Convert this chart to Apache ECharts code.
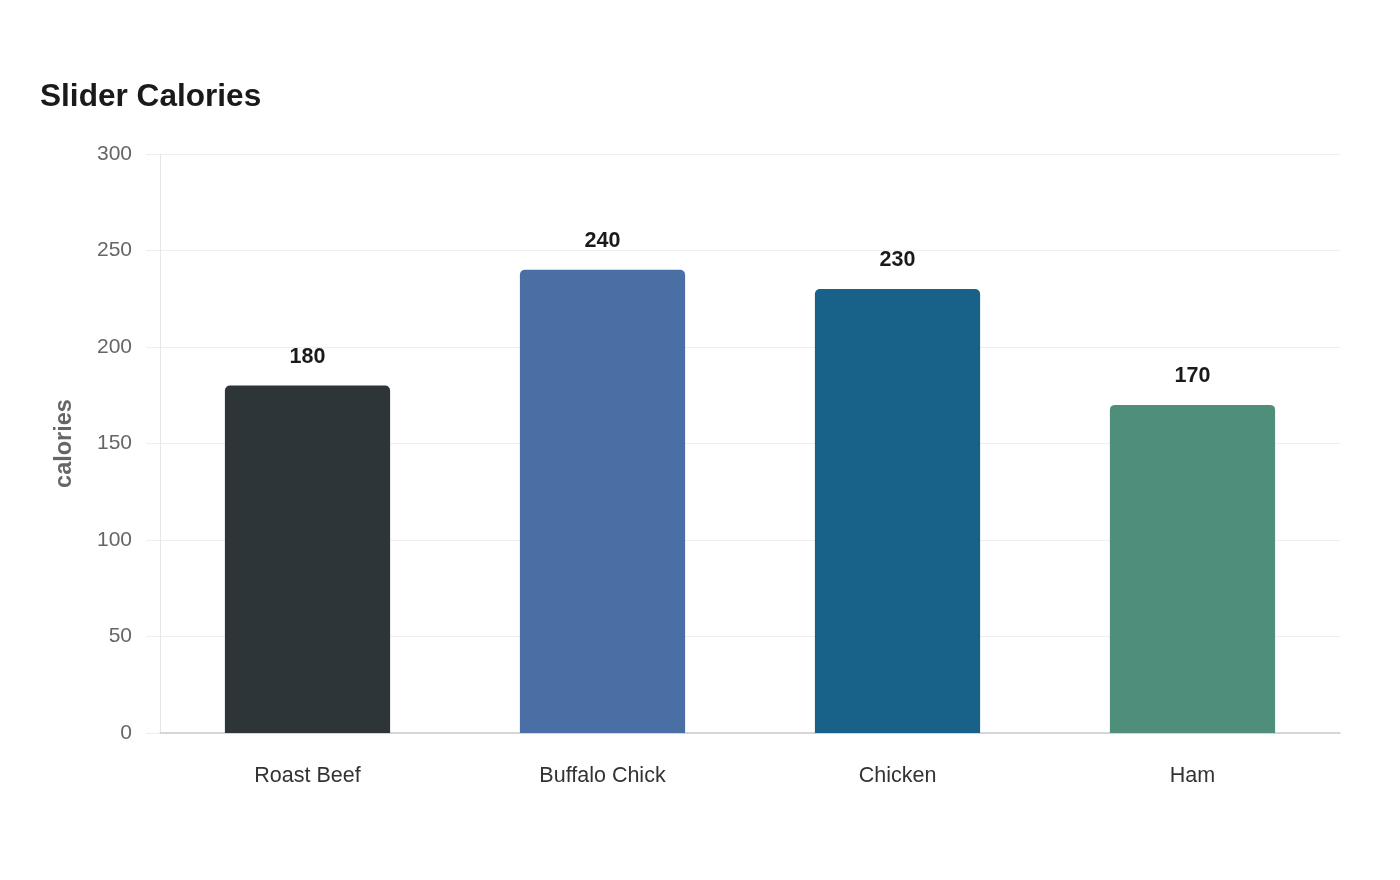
<!DOCTYPE html>
<html>
<head>
<meta charset="utf-8">
<script src="https://cdn.jsdelivr.net/npm/echarts@6/dist/echarts.min.js"></script>
<style>
  html, body { margin: 0; padding: 0; background: #fff; }
  #chart { width: 1400px; height: 880px; }
</style>
</head>
<body>
<div id="chart"></div>
<script>
const categories = ['Roast Beef', 'Buffalo Chick', 'Chicken', 'Ham'];
const calories = [180, 240, 230, 170];
const barColors = ['#2E3538', '#4A6FA5', '#186188', '#4E8E7B'];
const yTicks = [0, 50, 100, 150, 200, 250, 300];

const chart = echarts.init(document.getElementById('chart'));
const font = 'Liberation Sans';

chart.setOption({
  animation: false,
  textStyle: { fontFamily: font },
  title: {
    text: 'Slider Calories',
    left: 35,
    top: 76,
    textStyle: { fontSize: 31.6, fontWeight: 'bold', color: '#1a1a1a', fontFamily: font }
  },
  grid: { left: 160, right: 60, top: 154, bottom: 147 },
  xAxis: {
    type: 'category',
    data: categories,
    axisLine: { show: true, lineStyle: { color: '#cccccc', width: 1.5 } },
    axisTick: { show: false },
    axisLabel: { fontSize: 21.5, color: '#333333', margin: 32, fontFamily: font }
  },
  yAxis: {
    type: 'value',
    min: yTicks[0],
    max: yTicks[yTicks.length - 1],
    interval: 50,
    name: 'calories',
    nameLocation: 'middle',
    nameGap: 83,
    nameTextStyle: { fontSize: 23.5, fontWeight: 'bold', color: '#666666', fontFamily: font },
    axisLine: { show: true, lineStyle: { color: '#e6e6e6', width: 1 } },
    axisTick: { show: true, length: 14, lineStyle: { color: '#eeeeee' } },
    axisLabel: { fontSize: 21, color: '#666666', margin: 28, fontFamily: font },
    splitLine: { lineStyle: { color: '#eeeeee', width: 1 } }
  },
  series: [{
    type: 'bar',
    barWidth: '56%',
    data: calories.map((v, i) => ({ value: v, itemStyle: { color: barColors[i] } })),
    itemStyle: { borderRadius: [5, 5, 0, 0] },
    label: {
      show: true,
      position: 'top',
      distance: 18,
      fontSize: 21.5,
      fontWeight: 'bold',
      color: '#1a1a1a',
      fontFamily: font
    }
  }]
});
</script>
</body>
</html>
